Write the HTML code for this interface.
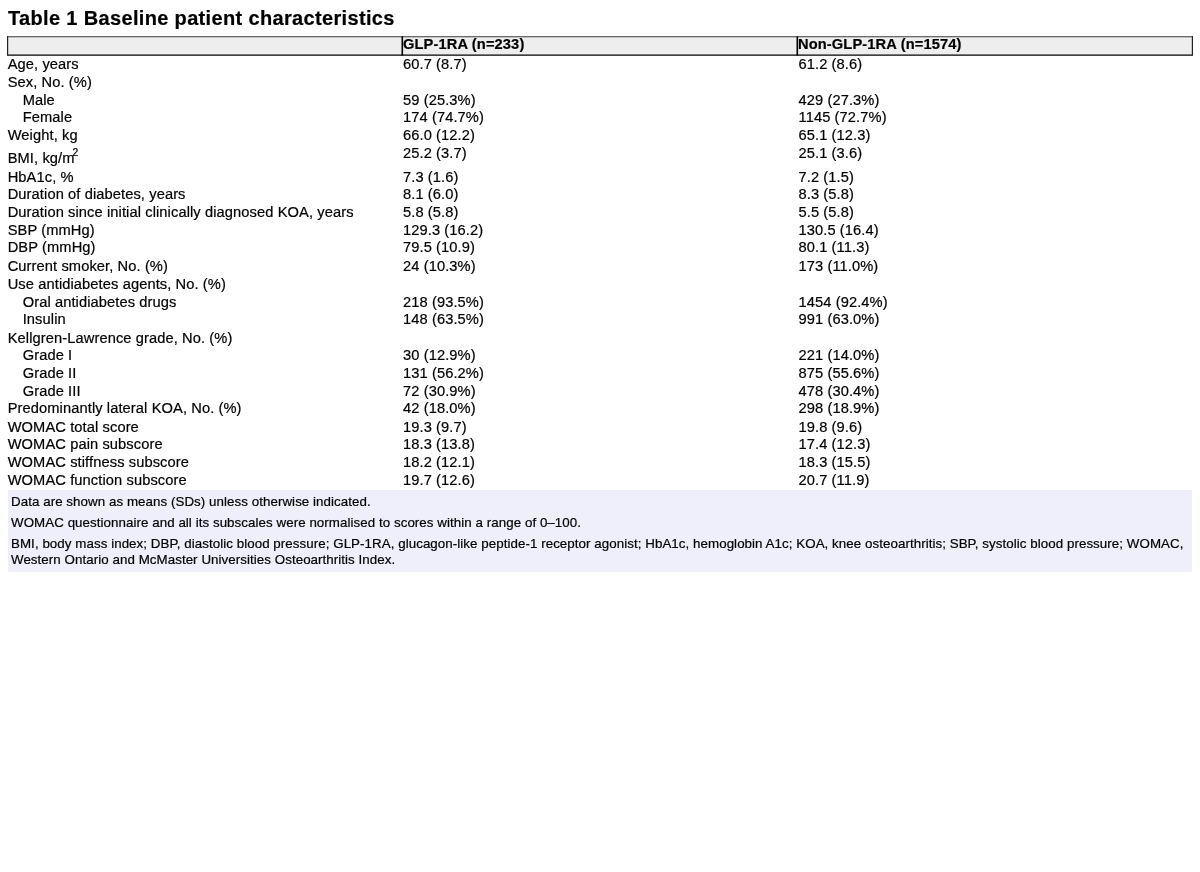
<!DOCTYPE html>
<html><head><meta charset="utf-8">
<style>
html,body{margin:0;padding:0;background:#fff;}
body{width:1200px;height:872px;position:relative;overflow:hidden;font-family:"Liberation Sans",Arial,sans-serif;color:#000;-webkit-text-stroke:0.2px #000;}
#title{position:absolute;left:8px;top:6px;font-size:20px;font-weight:bold;line-height:24px;white-space:nowrap;letter-spacing:0.34px;}
#head{position:absolute;left:7px;top:36px;width:1186px;height:20px}
#head svg{position:absolute;left:0;top:0}
#head span{position:absolute;top:0.3px;font-size:14.67px;font-weight:bold;line-height:16.4px;white-space:nowrap;letter-spacing:0.12px}
.r{position:absolute;left:0;width:1200px;height:18px;font-size:14.67px;line-height:18px;white-space:nowrap;letter-spacing:0.1px}
.r span{position:absolute;top:0}
.b{left:403px}.c{left:798.5px}
sup{font-size:10.3px;line-height:0;vertical-align:baseline;position:relative;top:-7px;margin-left:-2px}
#foot{position:absolute;left:8px;top:490px;width:1184px;height:82px;background:#efeffb;font-size:13.33px;letter-spacing:0.06px}
#foot p{margin:0;position:absolute;left:3px;line-height:16px;white-space:nowrap}
</style></head><body>
<div id="title">Table 1 Baseline patient characteristics</div>
<div id="head"><svg width="1186" height="20" viewBox="0 0 1186 20"><rect x="0.5" y="0.7" width="1185" height="18.3" fill="#eee"/><path d="M0.2 0.7H1185.8" stroke="#3a3a3a" stroke-width="1.1"/><path d="M0.2 19H1185.8" stroke="#000" stroke-width="1.25"/><path d="M0.6 0.2V19.5M1185.4 0.2V19.5" stroke="#222" stroke-width="1.2"/><path d="M395.3 0.2V19.5M790.3 0.2V19.5" stroke="#000" stroke-width="1.6"/></svg><span style="left:396px">GLP-1RA (n=233)</span><span style="left:791px">Non-GLP-1RA (n=1574)</span></div>
<div class="r" style="top:54.9px"><span class="a" style="left:7.7px">Age, years</span><span class="b">60.7 (8.7)</span><span class="c">61.2 (8.6)</span></div>
<div class="r" style="top:72.9px"><span class="a" style="left:7.7px">Sex, No. (%)</span></div>
<div class="r" style="top:90.6px"><span class="a" style="left:22.7px">Male</span><span class="b">59 (25.3%)</span><span class="c">429 (27.3%)</span></div>
<div class="r" style="top:108.2px"><span class="a" style="left:22.7px">Female</span><span class="b">174 (74.7%)</span><span class="c">1145 (72.7%)</span></div>
<div class="r" style="top:125.9px"><span class="a" style="left:7.7px">Weight, kg</span><span class="b">66.0 (12.2)</span><span class="c">65.1 (12.3)</span></div>
<div class="r" style="top:149.2px"><span class="a" style="left:7.7px">BMI, kg/m<sup>2</sup></span><span class="b" style=top:-5.2px>25.2 (3.7)</span><span class="c" style=top:-5.2px>25.1 (3.6)</span></div>
<div class="r" style="top:167.6px"><span class="a" style="left:7.7px">HbA1c, %</span><span class="b">7.3 (1.6)</span><span class="c">7.2 (1.5)</span></div>
<div class="r" style="top:185.2px"><span class="a" style="left:7.7px">Duration of diabetes, years</span><span class="b">8.1 (6.0)</span><span class="c">8.3 (5.8)</span></div>
<div class="r" style="top:203.2px"><span class="a" style="left:7.7px">Duration since initial clinically diagnosed KOA, years</span><span class="b">5.8 (5.8)</span><span class="c">5.5 (5.8)</span></div>
<div class="r" style="top:220.6px"><span class="a" style="left:7.7px">SBP (mmHg)</span><span class="b">129.3 (16.2)</span><span class="c">130.5 (16.4)</span></div>
<div class="r" style="top:238.2px"><span class="a" style="left:7.7px">DBP (mmHg)</span><span class="b">79.5 (10.9)</span><span class="c">80.1 (11.3)</span></div>
<div class="r" style="top:256.9px"><span class="a" style="left:7.7px">Current smoker, No. (%)</span><span class="b">24 (10.3%)</span><span class="c">173 (11.0%)</span></div>
<div class="r" style="top:274.6px"><span class="a" style="left:7.7px">Use antidiabetes agents, No. (%)</span></div>
<div class="r" style="top:292.6px"><span class="a" style="left:22.7px">Oral antidiabetes drugs</span><span class="b">218 (93.5%)</span><span class="c">1454 (92.4%)</span></div>
<div class="r" style="top:310.2px"><span class="a" style="left:22.7px">Insulin</span><span class="b">148 (63.5%)</span><span class="c">991 (63.0%)</span></div>
<div class="r" style="top:328.6px"><span class="a" style="left:7.7px">Kellgren-Lawrence grade, No. (%)</span></div>
<div class="r" style="top:346.2px"><span class="a" style="left:22.7px">Grade I</span><span class="b">30 (12.9%)</span><span class="c">221 (14.0%)</span></div>
<div class="r" style="top:363.9px"><span class="a" style="left:22.7px">Grade II</span><span class="b">131 (56.2%)</span><span class="c">875 (55.6%)</span></div>
<div class="r" style="top:381.6px"><span class="a" style="left:22.7px">Grade III</span><span class="b">72 (30.9%)</span><span class="c">478 (30.4%)</span></div>
<div class="r" style="top:398.9px"><span class="a" style="left:7.7px">Predominantly lateral KOA, No. (%)</span><span class="b">42 (18.0%)</span><span class="c">298 (18.9%)</span></div>
<div class="r" style="top:417.6px"><span class="a" style="left:7.7px">WOMAC total score</span><span class="b">19.3 (9.7)</span><span class="c">19.8 (9.6)</span></div>
<div class="r" style="top:435.2px"><span class="a" style="left:7.7px">WOMAC pain subscore</span><span class="b">18.3 (13.8)</span><span class="c">17.4 (12.3)</span></div>
<div class="r" style="top:453.2px"><span class="a" style="left:7.7px">WOMAC stiffness subscore</span><span class="b">18.2 (12.1)</span><span class="c">18.3 (15.5)</span></div>
<div class="r" style="top:471.2px"><span class="a" style="left:7.7px">WOMAC function subscore</span><span class="b">19.7 (12.6)</span><span class="c">20.7 (11.9)</span></div>
<div id="foot">
<p style="top:3.5px">Data are shown as means (SDs) unless otherwise indicated.</p>
<p style="top:24.5px">WOMAC questionnaire and all its subscales were normalised to scores within a range of 0–100.</p>
<p style="top:46px">BMI, body mass index; DBP, diastolic blood pressure; GLP-1RA, glucagon-like peptide-1 receptor agonist; HbA1c, hemoglobin A1c; KOA, knee osteoarthritis; SBP, systolic blood pressure; WOMAC,</p>
<p style="top:62px">Western Ontario and McMaster Universities Osteoarthritis Index.</p>
</div>
</body></html>
